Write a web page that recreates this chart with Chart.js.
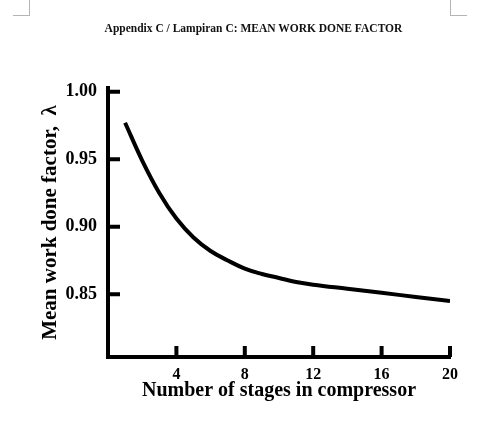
<!DOCTYPE html>
<html>
<head>
<meta charset="utf-8">
<script src="https://cdn.jsdelivr.net/npm/chart.js@4.4.0/dist/chart.umd.min.js"></script>
<style>
  body { margin: 0; background: #fff; }
  #wrap { position: relative; width: 496px; height: 432px; }
  #title {
    position: absolute; left: 0; width: 507px; top: 22px;
    text-align: center; font: bold 11.5px "Liberation Serif", serif; color: #111;
  }
  .mark { position: absolute; border-color: #b4b4b4; border-style: solid; border-width: 0; }
  #markL { left: 13px; top: 0; width: 16px; height: 15px; border-right-width: 1px; border-bottom-width: 1px; }
  #markR { left: 450px; top: 0; width: 16px; height: 15px; border-left-width: 1px; border-bottom-width: 1px; }
  canvas { position: absolute; left: 0; top: 0; }
</style>
</head>
<body>
<div id="wrap">
  <canvas id="chart" width="496" height="432"></canvas>
  <div class="mark" id="markL"></div>
  <div class="mark" id="markR"></div>
  <div id="title">Appendix C / Lampiran C: MEAN WORK DONE FACTOR</div>
</div>
<script>
"use strict";

// values
var stages = [1, 2, 3, 4, 5, 6, 7, 8, 9, 10, 11, 12, 14, 16, 18, 20];
var workDoneFactor = [0.977, 0.949, 0.925, 0.906, 0.892, 0.882, 0.875, 0.869, 0.865, 0.862, 0.859, 0.857, 0.854, 0.851, 0.848, 0.845];
var xTicks = [4, 8, 12, 16, 20];
var yTicks = [0.85, 0.90, 0.95, 1.00];

var points = stages.map(function(s, i) {
    return {x: s, y: workDoneFactor[i]};
});

var serif = "'Liberation Serif', 'Times New Roman', serif";

// tick marks on this chart point into the plot
var innerTicks = {
    id: "innerTicks",
    afterDraw: function(chart) {
        var ctx = chart.ctx;
        var area = chart.chartArea;
        var xs = chart.scales.x;
        var ys = chart.scales.y;
        ctx.save();
        ctx.strokeStyle = "#000";
        ctx.lineWidth = 4;
        ctx.beginPath();
        yTicks.forEach(function(v) {
            var py = ys.getPixelForValue(v);
            ctx.moveTo(area.left, py);
            ctx.lineTo(area.left + 12, py);
        });
        xTicks.forEach(function(v) {
            var px = xs.getPixelForValue(v);
            ctx.moveTo(px, area.bottom);
            ctx.lineTo(px, area.bottom - 11);
        });
        ctx.stroke();
        ctx.restore();
    }
};

var ctx = document.getElementById("chart").getContext("2d");
var chart = new Chart(ctx, {
    type: "line",
    data: {
        datasets: [{
            label: "Mean work done factor",
            data: points,
            borderColor: "#000",
            borderWidth: 4,
            backgroundColor: "transparent",
            pointRadius: 0,
            tension: 0.4,
            fill: false
        }]
    },
    options: {
        responsive: false,
        animation: false,
        layout: {padding: {left: 0, top: 88, right: 46, bottom: 0}},
        plugins: {
            legend: {display: false},
            tooltip: {enabled: false}
        },
        scales: {
            x: {
                type: "linear",
                min: 0,
                max: 20,
                afterBuildTicks: function(scale) {
                    scale.ticks = xTicks.map(function(v) { return {value: v}; });
                },
                afterFit: function(scale) { scale.height = 75; },
                grid: {display: false, drawTicks: false},
                border: {display: true, color: "#000", width: 4},
                ticks: {
                    color: "#000",
                    padding: 8,
                    maxRotation: 0,
                    font: {family: serif, size: 16, weight: "bold"}
                },
                title: {
                    display: true,
                    text: "Number of stages in compressor",
                    color: "#000",
                    padding: {top: 0, bottom: 29},
                    font: {family: serif, size: 20, weight: "bold"}
                }
            },
            y: {
                type: "linear",
                min: 0.8035,
                max: 1.0027,
                afterBuildTicks: function(scale) {
                    scale.ticks = yTicks.map(function(v) { return {value: v}; });
                },
                afterFit: function(scale) { scale.width = 108; },
                grid: {display: false, drawTicks: false},
                border: {display: true, color: "#000", width: 4},
                ticks: {
                    color: "#000",
                    padding: 11,
                    font: {family: serif, size: 18, weight: "bold"},
                    callback: function(v) { return Number(v).toFixed(2); }
                },
                title: {
                    display: true,
                    text: "Mean work done factor,  \u03bb",
                    color: "#000",
                    padding: {top: 38, bottom: 0},
                    font: {family: serif, size: 21, weight: "bold"}
                }
            }
        }
    },
    plugins: [innerTicks]
});
</script>
</body>
</html>
